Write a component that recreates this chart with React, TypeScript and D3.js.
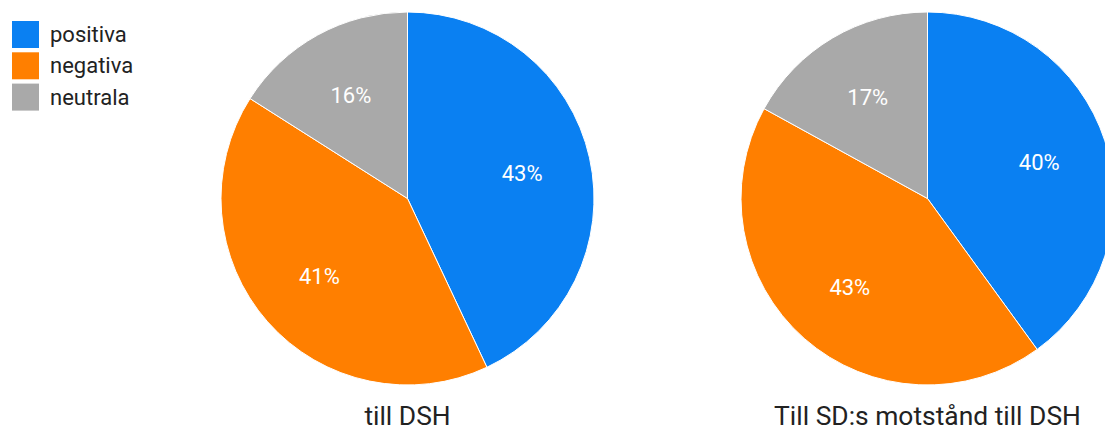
import React from 'react';
import { arc, pie, PieArcDatum } from 'd3';

const width = 1105;
const height = 432;
const radius = 186.5;

const categories = ['positiva', 'negativa', 'neutrala'];
const colors = ['#0a80f2', '#ff7f00', '#a9a9a9'];
const titles = ['till DSH', 'Till SD:s motstånd till DSH'];
const valuesDsh = [43, 41, 16];
const valuesMotstand = [40, 43, 17];
const centersX = [407.5, 927.5];
const centerY = 198.5;

const makePie = pie<number>().sort(null).value(d => d);
const sliceArc = arc<PieArcDatum<number>>().innerRadius(0).outerRadius(radius);
const labelArc = arc<PieArcDatum<number>>().innerRadius(radius * 0.63).outerRadius(radius * 0.63);

function Pie({ values, cx, title }: { values: number[]; cx: number; title: string }) {
  const slices = makePie(values);
  return (
    <g>
      <g transform={`translate(${cx},${centerY})`}>
        {slices.map((s, i) => (
          <path key={i} d={sliceArc(s) || ''} fill={colors[i]} stroke="#fff" strokeWidth={1} />
        ))}
        {slices.map((s, i) => {
          const [x, y] = labelArc.centroid(s);
          return (
            <text key={i} x={x} y={y} dy="0.36em" textAnchor="middle" fill="#fff" fontSize={22}>
              {s.data}%
            </text>
          );
        })}
      </g>
      <text x={cx} y={425} textAnchor="middle" fill="#222" fontSize={26.4}>
        {title}
      </text>
    </g>
  );
}

export default function App() {
  return (
    <svg
      width={width}
      height={height}
      style={{ position: 'absolute', left: 0, top: 0, fontFamily: 'Roboto, sans-serif' }}
    >
      <rect width={width} height={height} fill="#fff" />
      <Pie values={valuesDsh} cx={centersX[0]} title={titles[0]} />
      <Pie values={valuesMotstand} cx={centersX[1]} title={titles[1]} />
      <g>
        {categories.map((c, i) => (
          <g key={c} transform={`translate(12,${21 + i * 31.3})`}>
            <rect width={27} height={27} fill={colors[i]} />
            <text x={38} y={13.5} dy="0.35em" fill="#222" fontSize={22}>
              {c}
            </text>
          </g>
        ))}
      </g>
    </svg>
  );
}
